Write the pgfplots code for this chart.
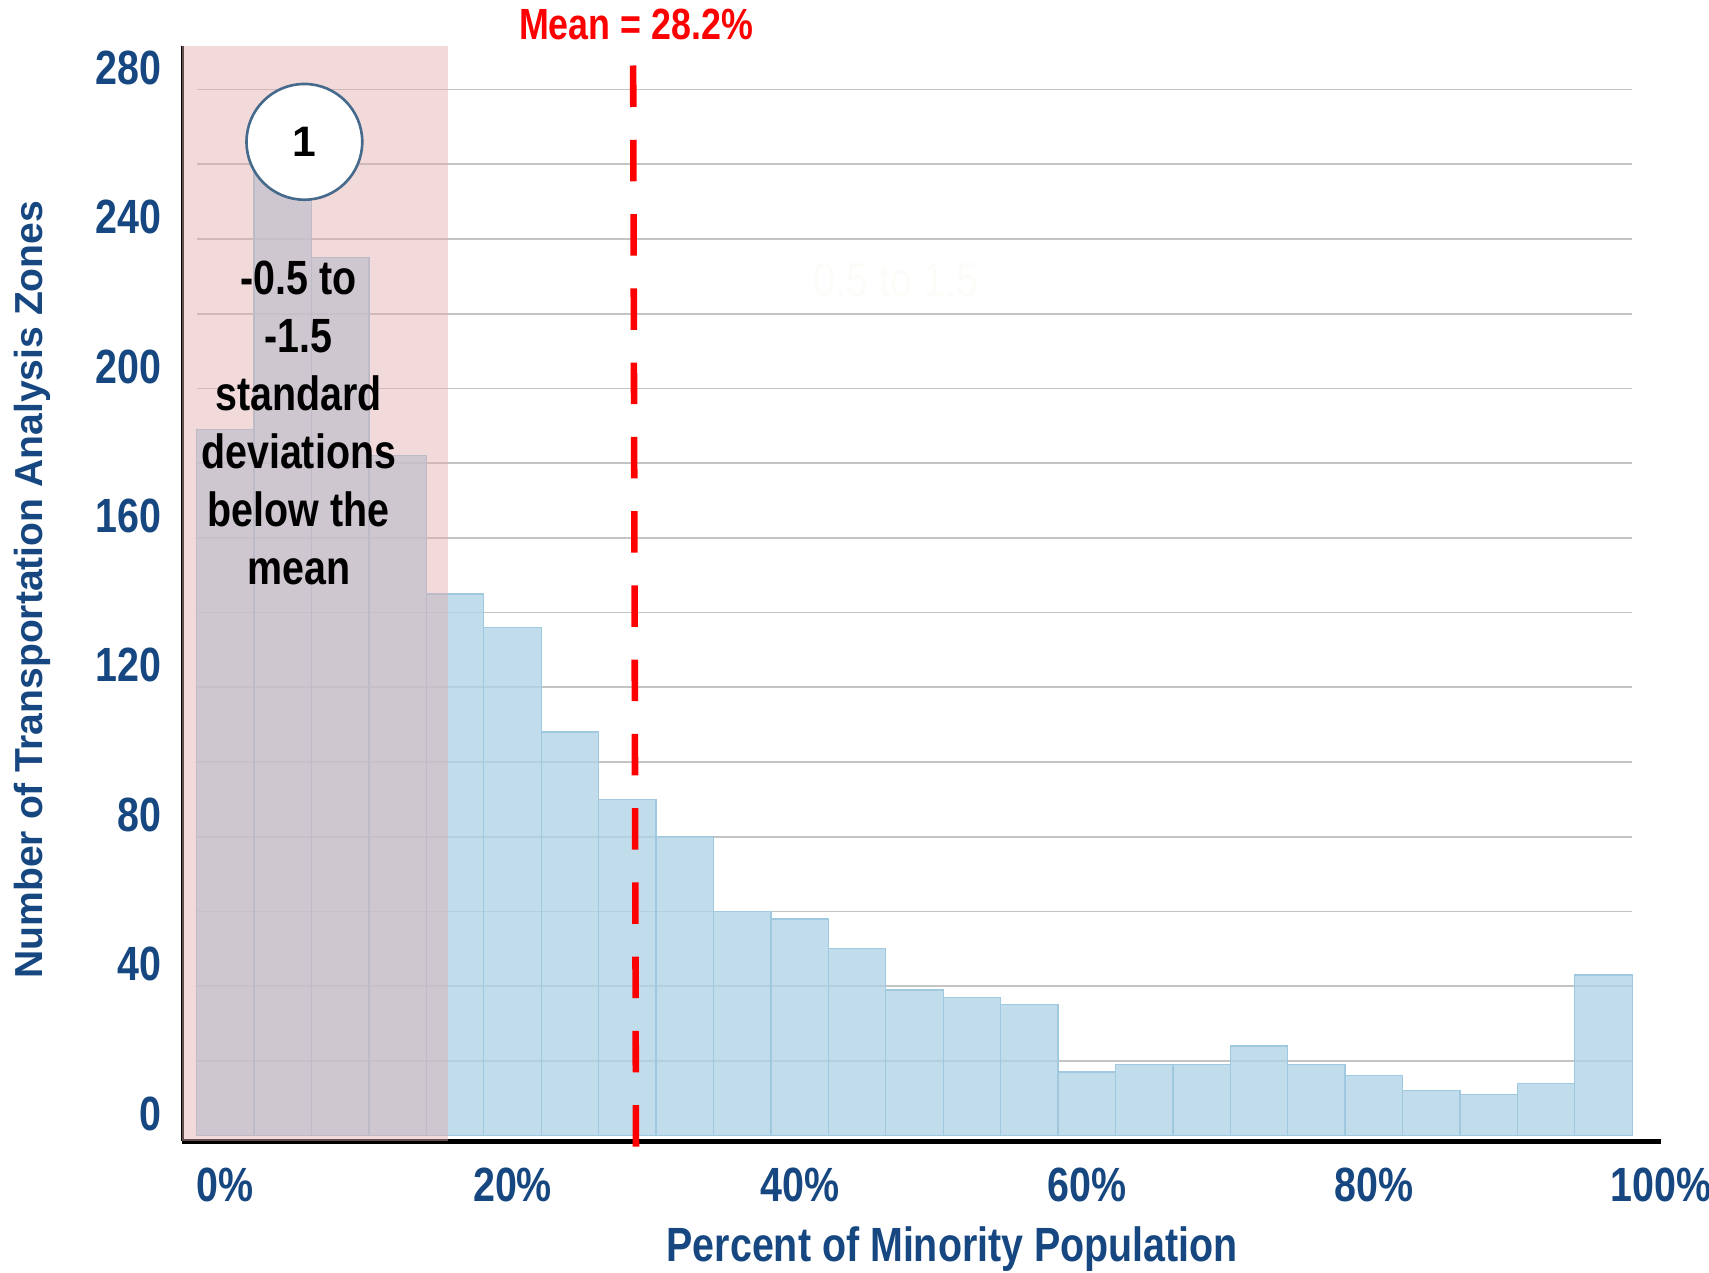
\documentclass[border=0pt]{standalone}
\usepackage{pgfplots}
\pgfplotsset{compat=1.18}
\usepackage{fontspec}
\setmainfont{Liberation Sans}
\newfontfamily\narrow{Liberation Sans}[FakeStretch=0.82]

\definecolor{lblue}{RGB}{23,71,128}
\definecolor{barfill}{RGB}{177,212,230}
\definecolor{baredge}{RGB}{160,200,222}
\definecolor{pinkish}{RGB}{226,173,173}
\definecolor{gridc}{RGB}{196,196,196}
\definecolor{circc}{RGB}{70,106,140}
\definecolor{ghost}{RGB}{252,252,249}

\begin{document}
\begin{tikzpicture}
\path[use as bounding box] (-83.5pt,-60pt) rectangle (699pt,522.5pt);
\begin{axis}[
    at={(0,0)}, anchor=south west,
    scale only axis, width=677pt, height=501.5pt,
    xmin=-3, xmax=100, ymin=-1.5, ymax=291.7,
    axis x line=bottom, axis y line=left,
    x axis line style={-, line width=2.3pt, black},
    y axis line style={-, line width=1.4pt, black},
    major tick length=0pt,
    xtick={0,20,40,60,80,100},
    xticklabels={0\%,20\%,40\%,60\%,80\%,100\%},
    ytick={0,40,...,280},
    /pgf/number format/assume math mode=true,
    ticklabel style={font=\fontsize{22}{24}\selectfont\narrow\bfseries, text=lblue, inner sep=0pt},
    xticklabel style={anchor=north, yshift=-12pt},
    yticklabel style={anchor=east, xshift=-9.5pt, yshift=10pt},
    xlabel={Percent of Minority Population},
    xlabel style={at={(rel axis cs:0.5207,0)}, anchor=north, yshift=-39pt, inner sep=0pt,
        font=\fontsize{22}{24}\selectfont\narrow\bfseries, text=lblue},
    ylabel={Number of Transportation Analysis Zones},
    ylabel style={at={(rel axis cs:0,0.5035)}, anchor=center, yshift=68.5pt, inner sep=0pt,
        font=\fontsize{17.9}{20}\selectfont\bfseries, text=lblue},
    clip=false,
]
% horizontal grid, only across the bars
\pgfplotsinvokeforeach{0,20,40,60,80,100,120,140,160,180,200,220,240,260,280}{
    \draw[gridc, line width=0.8pt] (axis cs:-2,#1) -- (axis cs:98,#1);
}

% histogram, 4% bins
\addplot[ybar interval, fill=barfill, fill opacity=0.8, draw=baredge, line width=0.6pt]
    coordinates {(-2,189) (2,265) (6,235) (10,182) (14,145) (18,136) (22,108) (26,90)
    (30,80) (34,60) (38,58) (42,50) (46,39) (50,37) (54,35) (58,17) (62,19) (66,19)
    (70,24) (74,19) (78,16) (82,12) (86,11) (90,14) (94,43) (98,43)};

% shaded band
\fill[pinkish, fill opacity=0.45] (rel axis cs:0,0) rectangle (axis cs:15.5,291.7);

% mean
\draw[red, line width=3pt, dash pattern=on 19pt off 15pt, dash phase=25pt]
    (axis cs:28.4,291.7) -- (axis cs:28.6,-3.5);
\node[red, font=\fontsize{20}{22}\selectfont\narrow\bfseries, inner sep=0pt]
    at (axis cs:28.6,297.5) {Mean = 28.2\%};

\node[ghost, font=\fontsize{22}{24}\selectfont\narrow] at (axis cs:46.7,229) {0.5 to 1.5};

\node[circle, draw=circc, line width=1.2pt, fill=white, minimum size=53pt, inner sep=0pt,
    font=\fontsize{19.5}{20}\selectfont\bfseries] at (axis cs:5.5,266) {1};

\node[align=center, font=\fontsize{22}{26.5}\selectfont\narrow\bfseries, inner sep=0pt]
    at (axis cs:5.1,190.8) {-0.5 to\\-1.5\\standard\\deviations\\below the\\mean};
\end{axis}
\end{tikzpicture}
\end{document}
